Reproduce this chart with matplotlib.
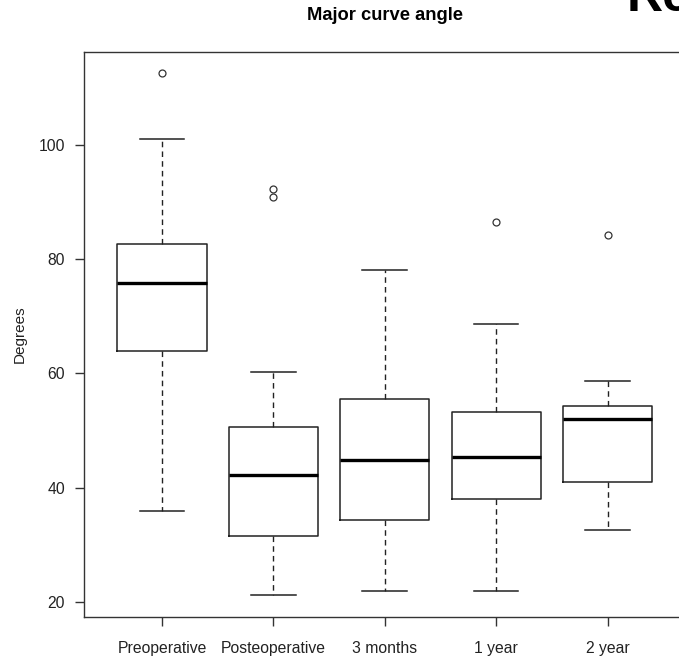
import matplotlib
matplotlib.use("Agg")
import matplotlib.pyplot as plt

plt.rcParams['font.family'] = ['Liberation Sans', 'DejaVu Sans']

groups = ["Preoperative", "Posteoperative", "3 months", "1 year", "2 year"]
whis_low = [35.9, 21.3, 22.0, 21.9, 32.6]
q1 = [64.0, 31.5, 34.3, 38.1, 41.0]
med = [75.8, 42.3, 44.9, 45.4, 52.1]
q3 = [82.7, 50.7, 55.5, 53.3, 54.3]
whis_high = [101.0, 60.3, 78.0, 68.6, 58.6]
outliers = [[112.5], [92.2, 90.9], [], [86.5], [84.2]]

stats = []
for i in range(len(groups)):
    stats.append(dict(label=groups[i], whislo=whis_low[i], q1=q1[i], med=med[i],
                      q3=q3[i], whishi=whis_high[i], fliers=outliers[i]))

fig = plt.figure(figsize=(6.79, 6.57), dpi=100)
# right part of the frame is cut off in the original screenshot
ax = fig.add_axes([84 / 679, 40.3 / 657, 601.5 / 679, 564.7 / 657])

ax.bxp(stats, positions=range(1, 6), widths=0.8, patch_artist=False,
       boxprops=dict(color="#222222", linewidth=1.1),
       medianprops=dict(color="black", linewidth=2.4),
       whiskerprops=dict(color="#222222", linewidth=1.0, linestyle=(0, (4, 3))),
       capprops=dict(color="#222222", linewidth=1.1),
       capwidths=0.4,
       flierprops=dict(marker="o", markersize=5, markerfacecolor="none",
                       markeredgecolor="#333333", markeredgewidth=0.9))

ax.set_xlim(0.3, 5.7)
ax.set_ylim(17.45, 116.2)
ax.set_yticks([20, 40, 60, 80, 100])
ax.set_xticks(range(1, 6))
ax.set_xticklabels(groups)
ax.tick_params(axis="both", length=6.5, width=1.0, color="#333333", labelsize=11.3,
               labelcolor="#222222")
ax.tick_params(axis="y", pad=7)
ax.tick_params(axis="x", pad=11)
for s in ax.spines.values():
    s.set_color("#333333")
    s.set_linewidth(1.0)

ax.set_ylabel("Degrees", fontsize=11, labelpad=9, color="#222222")
fig.text(384.8 / 679, 1 - 15 / 657, "Major curve angle", ha="center", va="center",
         fontsize=13.2, fontweight="bold")

# partial large heading visible at the top right corner
fig.text(627 / 679, 1 - 11 / 657, "Re", ha="left", va="baseline",
         fontsize=36, fontweight="bold", color="black")

fig.savefig("out.png", dpi=100)
